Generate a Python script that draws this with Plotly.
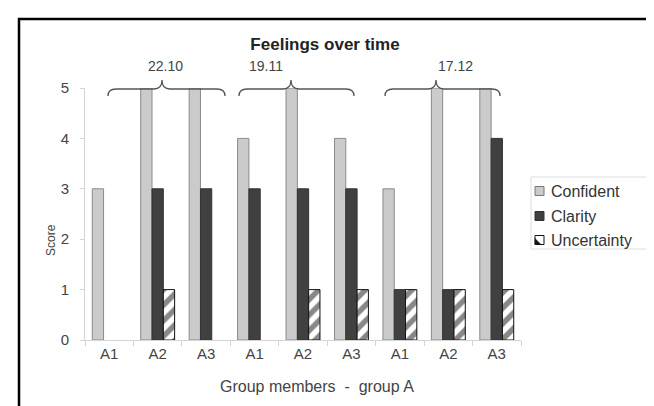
import plotly.graph_objects as go

# ---- data ----
members = ["A1", "A2", "A3", "A1", "A2", "A3", "A1", "A2", "A3"]
confident = [3, 5, 5, 4, 5, 4, 3, 5, 5]
clarity = [0, 3, 3, 3, 3, 3, 1, 1, 4]
uncertainty = [0, 1, 0, 0, 1, 1, 1, 1, 1]
series_names = ["Confident", "Clarity", "Uncertainty"]
dates = ["22.10", "19.11", "17.12"]
y_ticks = [0, 1, 2, 3, 4, 5]

FONT = "Liberation Sans, Arial, sans-serif"
W, H = 654, 406
ML, MR, MT, MB = 77, 141, 80, 74
PW = W - ML - MR
PH = H - MT - MB

def px(x):
    return (x - ML) / PW

def py(y):
    return (H - MB - y) / PH

def nz(vals):
    # zero scores draw no bar in the original chart
    return [v if v else None for v in vals]

xs = list(range(len(members)))

fig = go.Figure()
fig.add_trace(go.Bar(
    x=xs, y=nz(confident), name=series_names[0],
    marker=dict(color="#cbcbcb", line=dict(color="#8a8a8a", width=1)),
))
fig.add_trace(go.Bar(
    x=xs, y=nz(clarity), name=series_names[1],
    marker=dict(color="#404040", line=dict(color="#333333", width=1)),
))
fig.add_trace(go.Bar(
    x=xs, y=nz(uncertainty), name=series_names[2],
    marker=dict(color="white", line=dict(color="#111111", width=1),
                pattern=dict(shape="/", fgcolor="#111111", bgcolor="white",
                             size=11, solidity=0.5)),
))

# braces over the three dates
braces = [
    (100, 154, 217, 157),
    (231, 283, 346, 258),
    (377, 428, 492, 447),
]
y_end, y_h, y_top, r = 88, 81, 72, 8
shapes = []
annotations = []
for (x0, xm, x1, xl), d in zip(braces, dates):
    path = (
        f"M {px(x0)},{py(y_end)} Q {px(x0)},{py(y_h)} {px(x0 + r)},{py(y_h)} "
        f"L {px(xm - r)},{py(y_h)} Q {px(xm)},{py(y_h)} {px(xm)},{py(y_top)} "
        f"Q {px(xm)},{py(y_h)} {px(xm + r)},{py(y_h)} "
        f"L {px(x1 - r)},{py(y_h)} Q {px(x1)},{py(y_h)} {px(x1)},{py(y_end)}"
    )
    shapes.append(dict(type="path", xref="paper", yref="paper", path=path,
                       line=dict(color="#555555", width=1.3)))
    annotations.append(dict(text=d, xref="paper", yref="paper", x=px(xl), y=py(58),
                            showarrow=False, xanchor="center", yanchor="middle",
                            font=dict(family=FONT, size=14, color="#444444")))

# outer frame
shapes.append(dict(type="rect", xref="paper", yref="paper",
                   x0=px(11), x1=px(700), y0=py(450), y1=py(11),
                   line=dict(color="#000000", width=2.5), layer="above"))

# hand-drawn legend (compact swatches like the original)
shapes.append(dict(type="rect", xref="paper", yref="paper",
                   x0=px(523), x1=px(720), y0=py(241), y1=py(169),
                   line=dict(color="#dddddd", width=1), fillcolor="white"))
leg_y = [183, 208, 232]
sw = 9
for i, (name, yy) in enumerate(zip(series_names, leg_y)):
    sx0, sx1 = 527, 527 + sw
    sy0, sy1 = yy - sw / 2, yy + sw / 2
    if i == 0:
        shapes.append(dict(type="rect", xref="paper", yref="paper",
                           x0=px(sx0), x1=px(sx1), y0=py(sy1), y1=py(sy0),
                           fillcolor="#cbcbcb", line=dict(color="#777777", width=1)))
    elif i == 1:
        shapes.append(dict(type="rect", xref="paper", yref="paper",
                           x0=px(sx0), x1=px(sx1), y0=py(sy1), y1=py(sy0),
                           fillcolor="#404040", line=dict(color="#333333", width=1)))
    else:
        shapes.append(dict(type="rect", xref="paper", yref="paper",
                           x0=px(sx0), x1=px(sx1), y0=py(sy1), y1=py(sy0),
                           fillcolor="white", line=dict(color="#111111", width=1)))
        tri = (f"M {px(sx0)},{py(sy1)} L {px(sx0)},{py(sy0 + 3)} "
               f"L {px(sx1 - 3)},{py(sy1)} Z")
        shapes.append(dict(type="path", xref="paper", yref="paper", path=tri,
                           fillcolor="#111111", line=dict(color="#111111", width=0.5)))
    annotations.append(dict(text=name, xref="paper", yref="paper", x=px(541), y=py(yy),
                            showarrow=False, xanchor="left", yanchor="middle",
                            font=dict(family=FONT, size=16, color="#333333")))

annotations.append(dict(text="Score", xref="paper", yref="paper", x=px(43), y=py(232),
                        textangle=-90, showarrow=False, xanchor="center", yanchor="middle",
                        font=dict(family=FONT, size=12, color="#444444")))
annotations.append(dict(text="Group members\u00a0\u00a0-\u00a0\u00a0group A",
                        xref="paper", yref="paper", x=px(309), y=py(378),
                        showarrow=False, xanchor="center", yanchor="middle",
                        font=dict(family=FONT, size=16, color="#444444")))

fig.update_layout(
    width=W, height=H,
    margin=dict(l=ML, r=MR, t=MT, b=MB),
    paper_bgcolor="white", plot_bgcolor="white",
    barmode="group", bargap=0.3, bargroupgap=0,
    title=dict(text="<b>Feelings over time</b>", x=317 / W, y=1 - 36 / H,
               xref="container", yref="container", xanchor="center", yanchor="middle",
               font=dict(family=FONT, size=17, color="#222222")),
    font=dict(family=FONT, color="#444444"),
    showlegend=False,
    shapes=shapes,
    annotations=annotations,
)
fig.update_xaxes(
    range=[-0.5, len(members) - 0.5],
    tickmode="array", tickvals=xs, ticktext=members,
    ticks="", showline=True, linecolor="#d4d4d4", linewidth=1,
    showgrid=False, zeroline=False,
    tickfont=dict(family=FONT, size=15, color="#444444"),
    minor=dict(tickmode="linear", tick0=-0.5, dtick=1, ticks="outside",
               ticklen=5, tickcolor="#d4d4d4", showgrid=False),
    fixedrange=True,
)
fig.update_yaxes(
    range=[0, 5], tickmode="array", tickvals=y_ticks,
    ticks="outside", ticklen=4, tickcolor="#d4d4d4",
    showline=True, linecolor="#d4d4d4", linewidth=1,
    showgrid=False, zeroline=False, ticklabelstandoff=8,
    tickfont=dict(family=FONT, size=15, color="#444444"),
    fixedrange=True,
)

fig.write_html("out.html")
